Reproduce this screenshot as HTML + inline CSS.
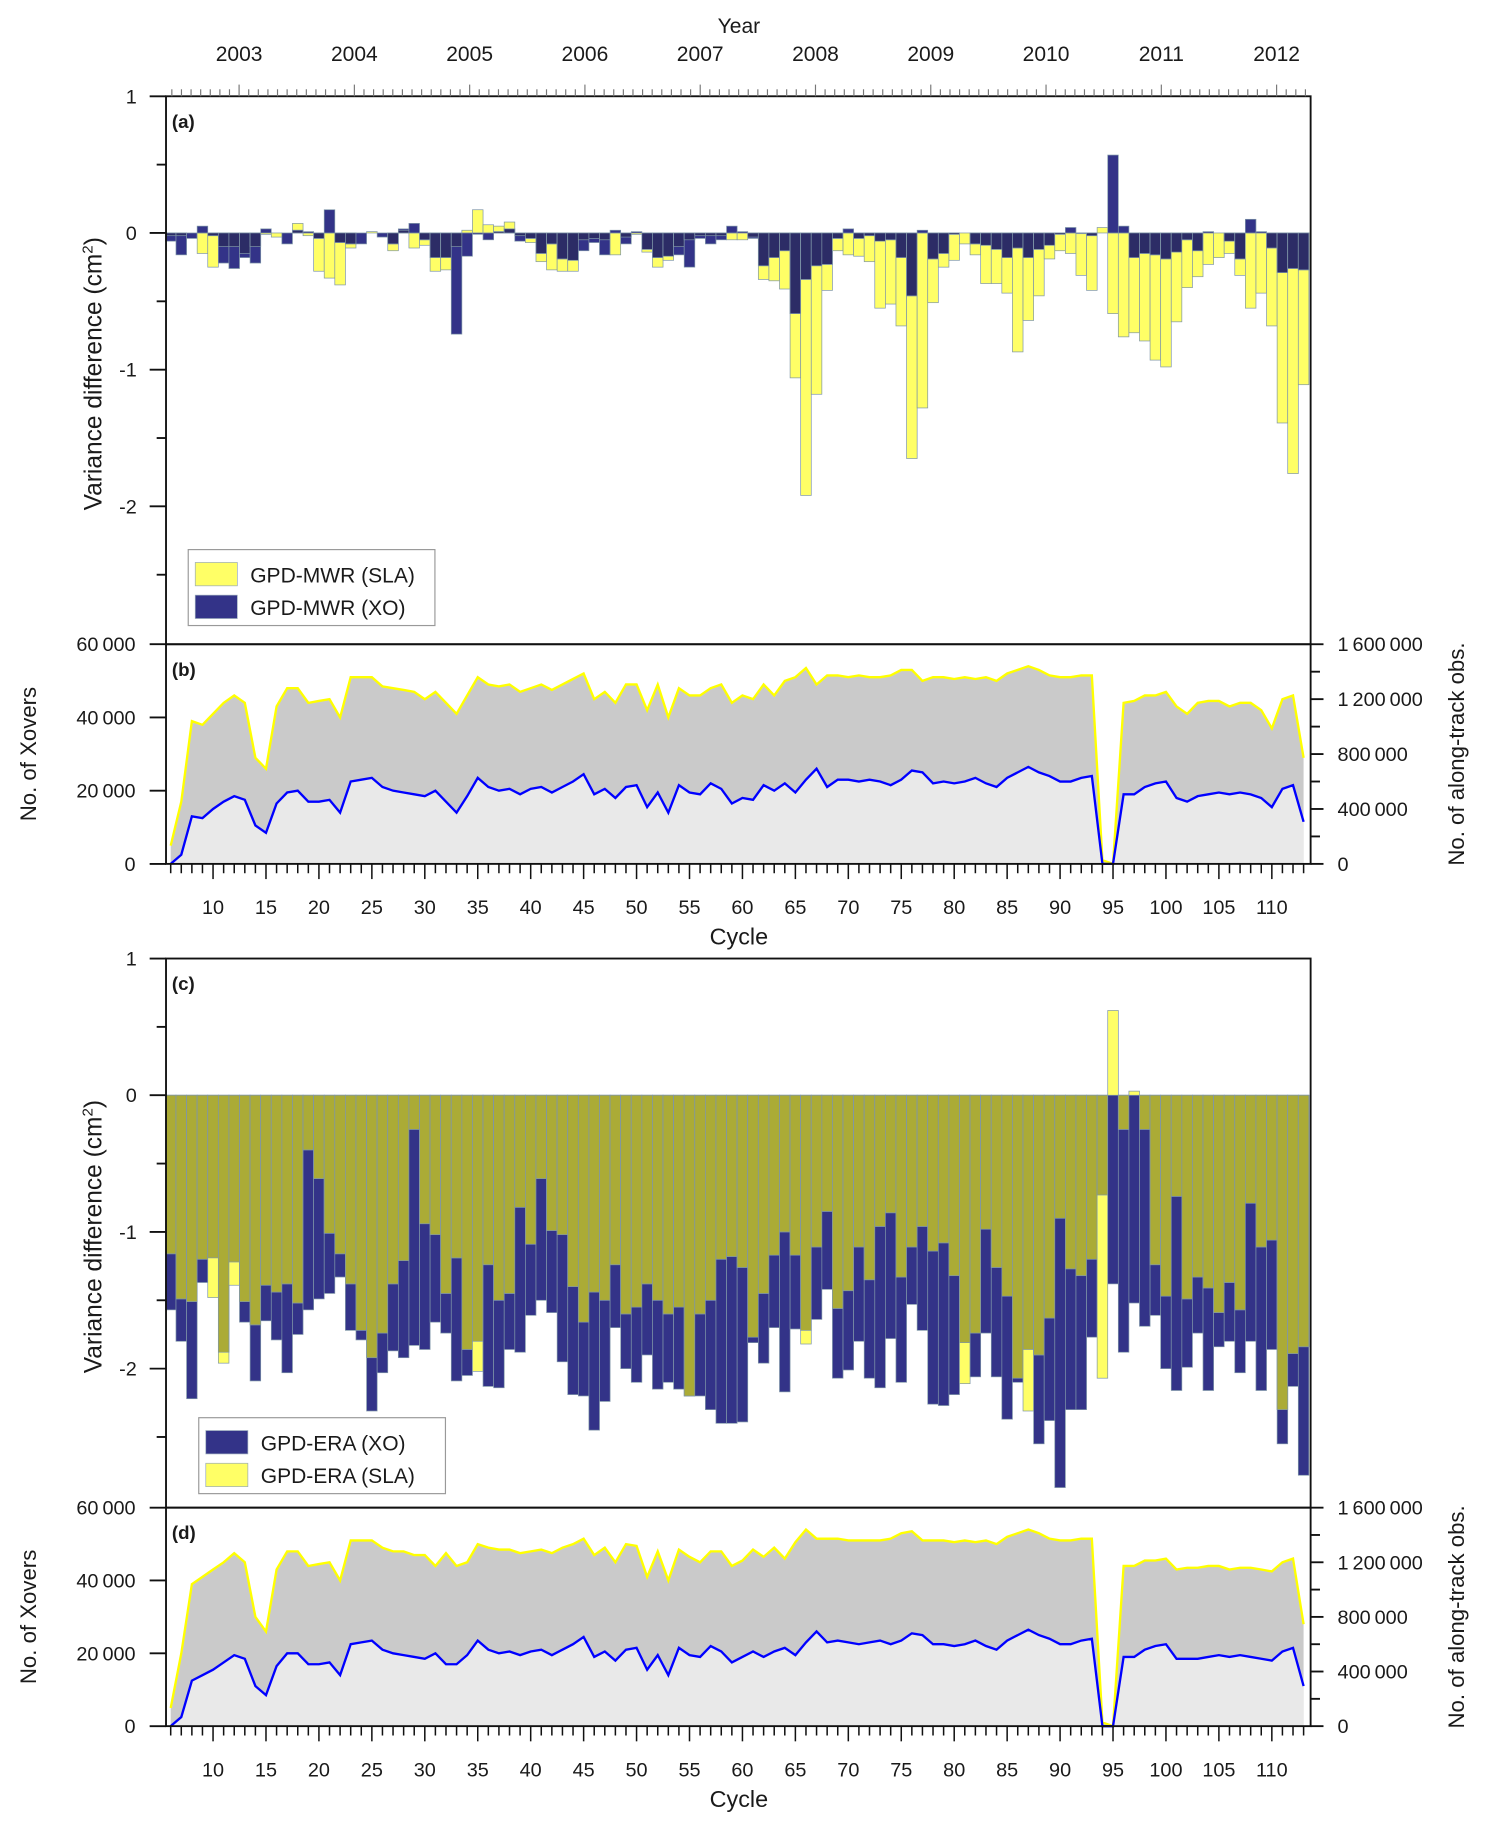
<!DOCTYPE html>
<html><head><meta charset="utf-8">
<style>
html,body{margin:0;padding:0;background:#fff;}
svg{display:block;}
text{font-family:"Liberation Sans",Arial,sans-serif;fill:#1a1a1a;}
</style></head>
<body>
<svg id="chart" width="1486" height="1832" viewBox="0 -0.4 1271 1568" preserveAspectRatio="none" xmlns="http://www.w3.org/2000/svg"></svg>
<script>
// ---------- DATA (cycles 6..113) ----------
const cycleFirst = 6, cycleLast = 113;
const cycles = [];
for (let c = cycleFirst; c <= cycleLast; c++) cycles.push(c);
const cycleTickLabels = [10,15,20,25,30,35,40,45,50,55,60,65,70,75,80,85,90,95,100,105,110];
const yearLabels = [2003,2004,2005,2006,2007,2008,2009,2010,2011,2012];
const varTicks = [1,0,-1,-2];
const xoverTicks = [0,20000,40000,60000];
const xoverTickLabels = ["0","20\u2009000","40\u2009000","60\u2009000"];
const alongTicks = [0,400000,800000,1200000,1600000];
const alongTickLabels = ["0","400\u2009000","800\u2009000","1\u2009200\u2009000","1\u2009600\u2009000"];

// panel (a) GPD-MWR
const mwrXO = [-0.06,-0.16,-0.04,0.05,-0.02,-0.22,-0.26,-0.18,-0.22,0.03,
 0,-0.08,0.02,0.01,-0.04,0.17,-0.07,-0.08,-0.08,0,
 -0.03,-0.08,0.03,0.07,-0.05,-0.18,-0.18,-0.74,-0.17,-0.01,
 -0.05,0.01,0.03,-0.06,-0.04,-0.15,-0.08,-0.19,-0.2,-0.13,
 -0.07,-0.16,0.02,-0.08,0.01,-0.12,-0.18,-0.17,-0.16,-0.25,
 -0.04,-0.08,-0.05,0.05,
 0.01,-0.04,-0.24,-0.18,-0.13,-0.59,-0.34,-0.24,-0.23,-0.04,
 0.03,-0.04,-0.02,-0.06,-0.05,-0.18,-0.46,0.02,-0.19,-0.15,
 -0.01,0,-0.08,-0.09,-0.12,-0.18,-0.11,-0.18,-0.12,-0.09,
 -0.01,0.04,-0.005,-0.02,0,0.57,0.05,-0.18,-0.15,-0.16,
 -0.19,-0.14,-0.05,-0.13,0.01,0,-0.06,-0.19,0.1,0.01,
 -0.11,-0.29,-0.26,-0.27];
const mwrSLA = [-0.02,-0.02,0,-0.15,-0.25,-0.1,-0.1,-0.15,-0.1,-0.01,
 -0.03,0,0.07,-0.02,-0.28,-0.33,-0.38,-0.11,0,0.01,
 0,-0.13,0.02,-0.11,-0.09,-0.28,-0.27,-0.1,0.02,0.17,
 0.06,0.05,0.08,-0.02,-0.07,-0.21,-0.27,-0.28,-0.28,-0.05,
 -0.04,-0.05,-0.16,-0.03,-0.01,-0.14,-0.25,-0.2,-0.1,-0.05,
 -0.02,-0.02,-0.02,-0.05,
 -0.05,-0.03,-0.34,-0.35,-0.41,-1.06,-1.92,-1.18,-0.42,-0.13,
 -0.16,-0.17,-0.21,-0.55,-0.52,-0.68,-1.65,-1.28,-0.51,-0.25,
 -0.2,-0.08,-0.16,-0.37,-0.37,-0.44,-0.87,-0.64,-0.46,-0.19,
 -0.13,-0.15,-0.31,-0.42,0.04,-0.59,-0.76,-0.73,-0.79,-0.93,
 -0.98,-0.65,-0.4,-0.32,-0.23,-0.18,-0.15,-0.31,-0.55,-0.44,
 -0.68,-1.39,-1.76,-1.11];

// panel (c) GPD-ERA
const eraXO = [-1.57,-1.80,-2.22,-1.37,-1.19,-1.88,-1.22,-1.66,-2.09,-1.65,
 -1.79,-2.03,-1.75,-1.57,-1.49,-1.45,-1.33,-1.72,-1.79,-2.31,
 -2.03,-1.87,-1.92,-1.83,-1.86,-1.66,-1.74,-2.09,-2.05,-1.80,
 -2.13,-2.14,-1.86,-1.88,-1.61,-1.50,-1.59,-1.95,-2.19,-2.2,
 -2.45,-2.24,-1.7,-2.0,-2.1,-1.9,-2.15,-2.1,-2.15,-2.2,
 -2.2,-2.3,-2.4,-2.4,
 -2.39,-1.81,-1.96,-1.70,-2.17,-1.71,-1.72,-1.64,-1.42,-2.07,
 -2.01,-1.80,-2.07,-2.14,-1.78,-2.10,-1.53,-1.72,-2.26,-2.27,
 -2.19,-1.81,-2.06,-1.74,-2.06,-2.37,-2.10,-1.86,-2.55,-2.38,
 -2.87,-2.30,-2.30,-1.77,-0.73,-1.38,-1.88,-1.52,-1.69,-1.61,
 -2.0,-2.16,-1.99,-1.74,-2.16,-1.84,-1.80,-2.03,-1.80,-2.16,
 -1.86,-2.55,-2.13,-2.78];
const eraSLA = [-1.16,-1.49,-1.51,-1.20,-1.48,-1.96,-1.39,-1.51,-1.68,-1.39,
 -1.44,-1.38,-1.52,-0.40,-0.61,-1.01,-1.16,-1.38,-1.72,-1.92,
 -1.74,-1.38,-1.21,-0.25,-0.94,-1.02,-1.45,-1.19,-1.86,-2.02,
 -1.24,-1.50,-1.45,-0.82,-1.09,-0.61,-0.99,-1.02,-1.40,-1.66,
 -1.44,-1.5,-1.24,-1.6,-1.55,-1.38,-1.5,-1.6,-1.55,-2.2,
 -1.6,-1.5,-1.2,-1.18,
 -1.26,-1.77,-1.45,-1.17,-1.0,-1.17,-1.82,-1.11,-0.85,-1.56,
 -1.43,-1.11,-1.35,-0.96,-0.86,-1.33,-1.11,-0.96,-1.14,-1.08,
 -1.32,-2.11,-1.74,-0.98,-1.26,-1.47,-2.07,-2.31,-1.90,-1.63,
 -0.90,-1.27,-1.32,-1.20,-2.07,0.62,-0.25,0.03,-0.25,-1.24,
 -1.47,-0.74,-1.49,-1.33,-1.41,-1.59,-1.37,-1.57,-0.79,-1.11,
 -1.06,-2.30,-1.89,-1.84];

// panel (b) counts
const xoverB = [0,2500,13000,12500,15000,17000,18500,17500,10500,8500,
 16500,19500,20000,17000,17000,17500,14000,22500,23000,23500,
 21000,20000,19500,19000,18500,20000,17000,14000,18500,23500,
 21000,20000,20500,19000,20500,21000,19500,21000,22500,24500,
 19000,20500,18000,21000,21500,15500,19500,14000,21500,19500,
 19000,22000,20500,16500,18000,17500,21500,20000,22000,19500,
 23000,26000,21000,23000,23000,22500,23000,22500,21500,23000,
 25500,25000,22000,22500,22000,22500,23500,22000,21000,23500,
 25000,26500,25000,24000,22500,22500,23500,24000,0,0,
 19000,19000,21000,22000,22500,18000,17000,18500,19000,19500,
 19000,19500,19000,18000,15500,20500,21500,11500];
const alongB_k = [133,453,1040,1013,1093,1173,1227,1173,773,693,
 1147,1280,1280,1173,1187,1200,1067,1360,1360,1360,
 1293,1280,1267,1253,1200,1253,1173,1093,1227,1360,
 1307,1293,1307,1253,1280,1307,1267,1307,1347,1387,
 1200,1253,1173,1307,1307,1120,1307,1067,1280,1227,
 1227,1280,1307,1173,1227,1200,1307,1227,1333,1360,
 1427,1307,1373,1373,1360,1373,1360,1360,1373,1413,
 1413,1333,1360,1360,1347,1360,1347,1360,1333,1387,
 1413,1440,1413,1373,1360,1360,1373,1373,27,0,
 1173,1187,1227,1227,1253,1147,1093,1173,1187,1187,
 1147,1173,1173,1120,987,1200,1227,773];

// panel (d) counts
const xoverD = [0,2500,12500,14000,15500,17500,19500,18500,11000,8500,
 16500,20000,20000,17000,17000,17500,14000,22500,23000,23500,
 21000,20000,19500,19000,18500,20000,17000,17000,19500,23500,
 21000,20000,20500,19500,20500,21000,19500,21000,22500,24500,
 19000,20500,18000,21000,21500,15500,19500,14000,21500,19500,
 19000,22000,20500,17500,19000,20500,19000,20500,21500,19500,
 23000,26000,23000,23500,23000,22500,23000,23500,22500,23500,
 25500,25000,22500,22500,22000,22500,23500,22000,21000,23500,
 25000,26500,25000,24000,22500,22500,23500,24000,0,0,
 19000,19000,21000,22000,22500,18500,18500,18500,19000,19500,
 19000,19500,19000,18500,18000,20500,21500,11000];
const alongD_k = [133,533,1040,1093,1147,1200,1267,1200,800,693,
 1147,1280,1280,1173,1187,1200,1067,1360,1360,1360,
 1307,1280,1280,1253,1253,1173,1267,1173,1200,1333,
 1307,1293,1293,1267,1280,1293,1267,1307,1333,1373,
 1253,1307,1200,1333,1320,1093,1280,1067,1293,1240,
 1200,1280,1280,1173,1213,1293,1240,1307,1227,1347,
 1440,1373,1373,1373,1360,1360,1360,1360,1373,1413,
 1427,1360,1360,1360,1347,1360,1347,1360,1333,1387,
 1413,1440,1413,1373,1360,1360,1373,1373,27,0,
 1173,1173,1213,1213,1227,1147,1160,1160,1173,1173,
 1147,1160,1160,1147,1133,1200,1227,747];

// ---------- LAYOUT ----------
const NS = "http://www.w3.org/2000/svg";
const svg = document.getElementById('chart');
const L = 142, R = 1121;
const A = {top:82, bot:551, zero:199, unit:117};
const B = {top:551, bot:739};
const C = {top:820, bot:1290, zero:937, unit:117};
const D = {top:1290, bot:1477};
const step = 9.056;
function xC(c){ return 146 + (c - cycleFirst) * step; }
function yA(v){ return A.zero - v * A.unit; }
function yC(v){ return C.zero - v * C.unit; }
function yBL(n){ return B.bot - n / 60000 * (B.bot - B.top); }
function yBR(n){ return B.bot - n / 1600000 * (B.bot - B.top); }
function yDL(n){ return D.bot - n / 60000 * (D.bot - D.top); }
function yDR(n){ return D.bot - n / 1600000 * (D.bot - D.top); }
function xYear(y){ return 204.5 + (y - 2003) * 98.6; }

function mk(tag, attrs, parent){
  const e = document.createElementNS(NS, tag);
  for (const k in attrs) e.setAttribute(k, attrs[k]);
  (parent || svg).appendChild(e);
  return e;
}
function txt(s, x, y, size, anchor, parent, extra){
  const t = mk('text', Object.assign({x:x, y:y, 'font-size':size, 'text-anchor':anchor||'middle'}, extra||{}), parent);
  t.textContent = s;
  return t;
}

const COL_YEL = "#ffff66", COL_BLUE = "#333388", COL_NAVY = "#2c2c66", COL_OLIVE = "#abab36", EDGE = "#7f96a8";

// ---------- panel (a) bars ----------
const gA = mk('g', {});


function barRect(g, c, v0, v1, fill, yfn, name, edge){
  const x = xC(c) - step/2;
  const y0 = yfn(v0), y1 = yfn(v1);
  const r = mk('rect', {x:x.toFixed(2), y:Math.min(y0,y1).toFixed(2), width:step.toFixed(2), height:Math.max(0.6,Math.abs(y1-y0)).toFixed(2), fill:fill, stroke:edge?EDGE:'none', 'stroke-width':edge?0.6:0}, g);
  
  
  return r;
}
cycles.forEach((c, i) => {
  const s = mwrSLA[i], x = mwrXO[i];
  if (s !== 0) barRect(gA, c, 0, s, COL_YEL, yA, 'bar-mwr-sla-' + c, true);
  if (x !== 0) barRect(gA, c, 0, x, COL_BLUE, yA, 'bar-mwr-xo-' + c, true);
  if (s * x > 0) {
    const m = Math.sign(s) * Math.min(Math.abs(s), Math.abs(x));
    barRect(gA, c, 0, m, COL_NAVY, yA, 'bar-mwr-overlap-' + c, true);
  }
});

// ---------- panel (c) bars ----------
const gC = mk('g', {});


cycles.forEach((c, i) => {
  const s = eraSLA[i], x = eraXO[i];
  barRect(gC, c, 0, x, COL_BLUE, yC, 'bar-era-xo-' + c, true);
  barRect(gC, c, 0, s, COL_YEL, yC, 'bar-era-sla-' + c, true);
  if (s * x > 0) {
    const m = Math.sign(s) * Math.min(Math.abs(s), Math.abs(x));
    barRect(gC, c, 0, m, COL_OLIVE, yC, 'bar-era-overlap-' + c, true);
  }
});

// ---------- line panels ----------
function linePanel(P, along, xov, yL, yR, tag){
  const g = mk('g', {});
  
  
  const ptsY = cycles.map((c,i) => xC(c).toFixed(2) + ',' + yR(along[i]*1000).toFixed(2));
  const ptsB = cycles.map((c,i) => xC(c).toFixed(2) + ',' + yL(xov[i]).toFixed(2));
  const x0 = xC(cycleFirst).toFixed(2), x1 = xC(cycleLast).toFixed(2);
  const fy = mk('polygon', {points: x0+','+P.bot+' '+ptsY.join(' ')+' '+x1+','+P.bot, fill:'#cacaca'}, g);
  
  
  const fb = mk('polygon', {points: x0+','+P.bot+' '+ptsB.join(' ')+' '+x1+','+P.bot, fill:'#e9e9e9'}, g);
  
  
  const ly = mk('polyline', {points: ptsY.join(' '), fill:'none', stroke:'#ffff00', 'stroke-width':2}, g);
  
  
  const lb = mk('polyline', {points: ptsB.join(' '), fill:'none', stroke:'#0000ff', 'stroke-width':2}, g);
  
  
}
linePanel(B, alongB_k, xoverB, yBL, yBR, 'b');
linePanel(D, alongD_k, xoverD, yDL, yDR, 'd');

// ---------- frames & axes ----------
const gAx = mk('g', {stroke:'#111', 'stroke-width':1.6, fill:'none'});


[A,B,C,D].forEach(P => mk('rect', {x:L, y:P.top, width:R-L, height:P.bot-P.top}, gAx));

[[A,yA,'a'],[C,yC,'c']].forEach(([P,yf,tag]) => {
  varTicks.forEach(v => {
    const y = yf(v);
    mk('line', {x1:L-14, y1:y, x2:L, y2:y}, gAx);
    const t = txt(v < 0 ? '-' + Math.abs(v) : String(v), 117, y + 6, 17, 'end');
    
    
  });
  [0.5,-0.5,-1.5,-2.5].forEach(v => { const y = yf(v); mk('line', {x1:L-8, y1:y, x2:L, y2:y}, gAx); });
});
[[B,yBL,yBR,'b'],[D,yDL,yDR,'d']].forEach(([P,yl,yr,tag]) => {
  xoverTicks.forEach((n,i) => {
    const y = yl(n);
    mk('line', {x1:L-14, y1:y, x2:L, y2:y}, gAx);
    const t = txt(xoverTickLabels[i], 116, y + 6, 17, 'end');
    
    
  });
  alongTicks.forEach((n,i) => {
    const y = yr(n);
    mk('line', {x1:R, y1:y, x2:R+11, y2:y}, gAx);
    const t = txt(alongTickLabels[i], 1144, y + 6, 17, 'start');
    
    
  });
  [200000,600000,1000000,1400000].forEach(n => { const y = yr(n); mk('line', {x1:R, y1:y, x2:R+8, y2:y}, gAx); });
  cycles.forEach(c => {
    const x = xC(c), major = c % 5 === 0;
    mk('line', {x1:x, y1:P.bot, x2:x, y2:P.bot + (major ? 13 : 8), 'stroke-width':1.3}, gAx);
  });
  cycleTickLabels.forEach(c => {
    const t = txt(String(c), xC(c), P.bot + 43, 17, 'middle');
    
    
  });
  const ct = txt('Cycle', 632, P.bot + 69, 20, 'middle');
  
  
  const yt = txt('No. of Xovers', 0, 0, 19, 'middle', null, {transform:'translate(31,' + ((P.top+P.bot)/2) + ') rotate(-90)'});
  
  
  const rt = txt('No. of along-track obs.', 0, 0, 19, 'middle', null, {transform:'translate(1252,' + ((P.top+P.bot)/2) + ') rotate(-90)'});
  
  
});
const gY = mk('g', {stroke:'#777', 'stroke-width':1});


for (let m = -7; m <= 112; m++) {
  const x = xYear(2003) + m * 98.6 / 12;
  if (x < L + 2 || x > R - 2) continue;
  mk('line', {x1:x, y1:A.top, x2:x, y2:A.top - (m % 12 === 0 ? 10 : 6)}, gY);
}
yearLabels.forEach(y => {
  const t = txt(String(y), xYear(y), 52, 18, 'middle');
  
  
});
const yearTitle = txt('Year', 632, 28, 18, 'middle');



[[A,'a'],[C,'c']].forEach(([P,tag]) => {
  const t = mk('text', {x:0, y:0, 'font-size':21, 'text-anchor':'middle', transform:'translate(87,' + ((P.top+P.bot)/2 + 3) + ') rotate(-90)'});
  t.innerHTML = 'Variance difference (cm<tspan font-size="13" dy="-8">2</tspan><tspan dy="8">)</tspan>';
  
  
});
[['(a)',A],['(b)',B],['(c)',C],['(d)',D]].forEach(([s,P]) => {
  const t = txt(s, 147, P.top + 27, 16, 'start', null, {'font-weight':'bold'});
  
  
});

function legend(x, y, entries, name){
  const g = mk('g', {});
  
  
  mk('rect', {x:x, y:y, width:211, height:65, fill:'#fff', stroke:'#999', 'stroke-width':1}, g);
  entries.forEach((e, i) => {
    const sw = mk('rect', {x:x+6, y:y+11+i*28, width:36, height:20, fill:e[1], stroke:'#9ab', 'stroke-width':0.6}, g);
    
    
    const t = txt(e[0], x+53, y+28+i*28, 18, 'start', g);
    
    
  });
}
legend(161, 470, [['GPD-MWR (SLA)', COL_YEL], ['GPD-MWR (XO)', COL_BLUE]], 'legend-a');
legend(170, 1213, [['GPD-ERA (XO)', COL_BLUE], ['GPD-ERA (SLA)', COL_YEL]], 'legend-c');
</script>
</body></html>
